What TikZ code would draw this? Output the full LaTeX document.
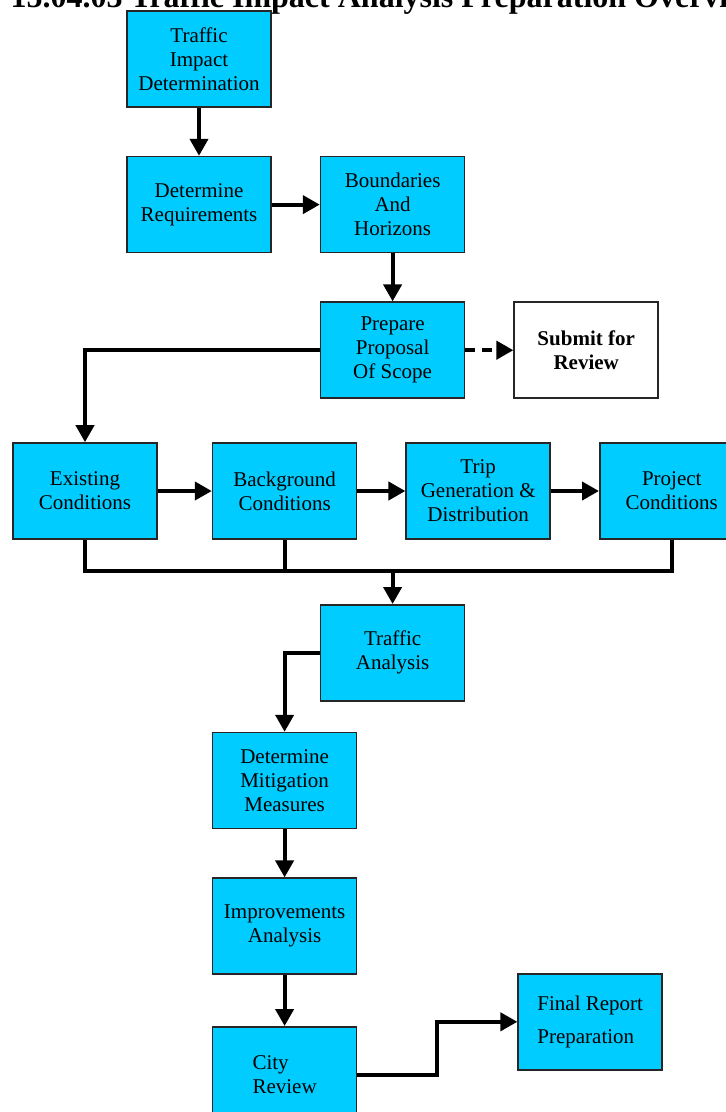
\documentclass[tikz,border=0pt]{standalone}
\usepackage{fontspec}
\setmainfont{Liberation Serif}
\usepackage{tikz}
\usetikzlibrary{positioning, arrows.meta}
\definecolor{boxcyan}{RGB}{0,204,255}

\begin{document}
\begin{tikzpicture}[
                x=1pt, y=1pt,
                node distance=48pt,
                >={Triangle[length=17pt,width=18pt]},
                wire/.style={line width=4pt},
                task/.style={rectangle, draw=black!85, line width=1.6pt, fill=boxcyan,
                    minimum width=144pt, minimum height=96pt, inner sep=0pt,
                    align=center, font=\fontsize{21}{24}\selectfont}
            ]
                \useasboundingbox (0,0) rectangle (726,-1112);
                \node[anchor=base west, font=\fontsize{32}{36}\selectfont\bfseries] (title) at (7,-7)
                    {15.04.03 Traffic Impact Analysis Preparation Overview};

                \node[task] (tid) at (199,-59) {Traffic\\Impact\\Determination};
                \node[task] (req) [below=of tid] {Determine\\Requirements};
                \node[task] (bnd) [right=of req] {Boundaries\\And\\Horizons};
                \node[task] (prep) [below=of bnd] {Prepare\\Proposal\\Of Scope};
                \node[task, fill=white, font=\fontsize{21}{24}\selectfont\bfseries] (sub) [right=of prep] {Submit for\\Review};

                \node[task] (ex) at (85,-491) {Existing\\Conditions};
                \node[task] (bg) [right=54pt of ex] {Background\\Conditions};
                \node[task] (trip) [right=of bg] {Trip\\Generation \&\\Distribution};
                \node[task] (pc) [right=of trip] {Project\\Conditions};
                \coordinate (bus) at ([yshift=-31pt]ex.south);

                \node[task] (ta) [below=205pt of prep] {Traffic\\Analysis};
                \node[task] (dm) [below=192pt of bg] {Determine\\Mitigation\\Measures};
                \node[task] (imp) [below=of dm] {Improvements\\Analysis};
                \node[task, align=left] (city) [below=51pt of imp] {City\\Review};
                \node[task, align=left, font=\fontsize{21}{33}\selectfont] (fin) [right=160pt of city, yshift=53pt] {Final Report\\Preparation};

                \path[->, wire]
                (tid) edge (req)
                (req) edge (bnd)
                (bnd) edge (prep)
                (prep) edge [dash pattern=on 10pt off 7pt] (sub)

                (ex) edge (bg)
                (bg) edge (trip)
                (trip) edge (pc)

                (dm) edge (imp)
                (imp) edge (city);

                \draw[->, wire] (prep.west) -| (ex.north);
                \draw[wire] (ex.south) |- (pc.south |- bus) -- (pc.south);
                \draw[wire] (bg.south) -- (bg.south |- bus);
                \draw[->, wire] (ta.north |- bus) -- (ta.north);
                \draw[->, wire] (ta.west) -| (dm.north);
                \draw[->, wire] (city.east) -- ++(80pt,0) |- (fin.west);
            \end{tikzpicture}
\end{document}
